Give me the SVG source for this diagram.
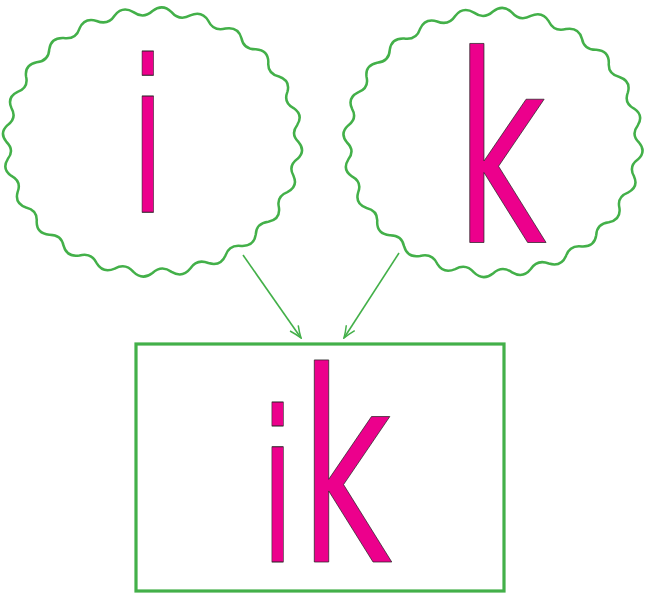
<svg xmlns="http://www.w3.org/2000/svg" width="646" height="593" viewBox="0 0 646 593">
<style>
.wave{fill:none;stroke:#43b049;stroke-width:2.5}
.box{fill:none;stroke:#43b049;stroke-width:3.2}
.edge{fill:none;stroke:#43b049;stroke-width:1.6}
.glyph{font-family:"DejaVu Sans","Liberation Sans",sans-serif;fill:#ec008c;stroke:#222;stroke-width:0.9;stroke-linejoin:round}
</style>
<defs>
<path id="cloud" d="M146,0 Q153.67,9.09 144.75,17.10 Q135.35,24 141.03,33.91 Q145.83,44.68 134.89,50.13 Q123.77,54.4 126.44,65.5 Q128.05,77.22 115.83,79.75 Q103.75,81.1 103.24,92.63 Q101.54,104.51 88.88,103.93 Q76.67,102.27 73,113.45 Q68.11,124.66 55.87,121.03 Q44.36,116.47 37.79,126.54 Q30.04,136.33 19.06,129.88 Q9.03,122.74 0,131 Q-10.07,138.7 -19.06,129.88 Q-26.92,120.64 -37.79,126.54 Q-49.5,131.62 -55.87,121.03 Q-61.04,110.32 -73,113.45 Q-85.56,115.57 -88.88,103.93 Q-90.99,92.48 -103.24,92.63 Q-115.78,91.65 -115.83,79.75 Q-114.74,68.34 -126.44,65.5 Q-138.12,61.48 -134.89,50.13 Q-130.68,39.54 -141.03,33.91 Q-151.04,27.12 -144.75,17.10 Q-137.7,8.04 -146,0 Q-153.67,-9.09 -144.75,-17.1 Q-135.35,-24 -141.03,-33.91 Q-145.83,-44.68 -134.89,-50.13 Q-123.77,-54.4 -126.44,-65.5 Q-128.05,-77.22 -115.83,-79.75 Q-103.75,-81.1 -103.24,-92.63 Q-101.54,-104.51 -88.88,-103.93 Q-76.67,-102.27 -73,-113.45 Q-68.11,-124.66 -55.87,-121.03 Q-44.36,-116.47 -37.79,-126.54 Q-30.04,-136.33 -19.06,-129.88 Q-9.03,-122.74 0,-131 Q10.07,-138.7 19.06,-129.88 Q26.92,-120.64 37.79,-126.54 Q49.5,-131.62 55.87,-121.03 Q61.04,-110.32 73,-113.45 Q85.56,-115.57 88.88,-103.93 Q90.99,-92.48 103.24,-92.63 Q115.78,-91.65 115.83,-79.75 Q114.74,-68.34 126.44,-65.5 Q138.12,-61.48 134.89,-50.13 Q130.68,-39.54 141.03,-33.91 Q151.04,-27.12 144.75,-17.1 Q137.7,-8.04 146,0 Z"/>
<marker id="arr" viewBox="0 0 14 12" refX="13" refY="6" markerWidth="14" markerHeight="12" markerUnits="userSpaceOnUse" orient="auto">
<path d="M1,1 Q7,4 13,6 Q7,8 1,11" fill="none" stroke="#43b049" stroke-width="1.5"/>
</marker>
</defs>
<g id="node-i">
<use href="#cloud" class="wave" transform="translate(152.5,142)"/>
<text class="glyph" font-size="213" text-anchor="middle" transform="translate(147.7,212) scale(0.6,1)">i</text>
</g>
<g id="node-k">
<use href="#cloud" class="wave" transform="translate(493,142.5)"/>
<text class="glyph" font-size="262" text-anchor="middle" transform="translate(501,242.5) scale(0.6,1)">k</text>
</g>
<g id="node-ik">
<rect class="box" x="136" y="344" width="368" height="247"/>
<text class="glyph" text-anchor="middle" transform="translate(0,562) scale(0.6,1)"><tspan x="462.8" font-size="211">i</tspan><tspan x="576.7" font-size="266">k</tspan></text>
</g>
<g id="connectors">
<line class="edge" x1="243" y1="255" x2="301" y2="338" marker-end="url(#arr)"/>
<line class="edge" x1="399" y1="253" x2="344" y2="338" marker-end="url(#arr)"/>
</g>
</svg>
